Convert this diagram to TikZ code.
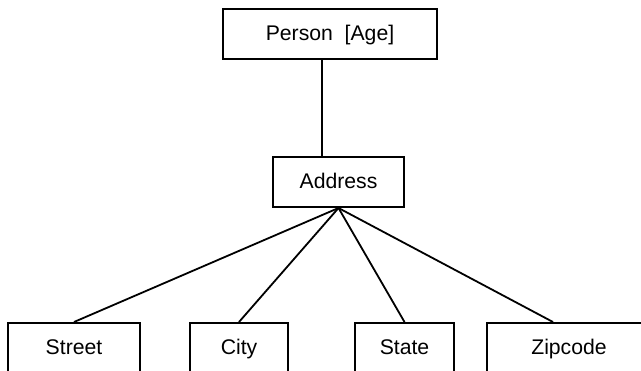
\documentclass[tikz,border=0pt]{standalone}
\usepackage{fontspec}
\setmainfont{Liberation Sans}

\tikzset{
	box/.style={draw, line width=1pt, minimum height=25pt, inner sep=0pt, text height=7.6pt, text depth=1pt, font=\fontsize{10.6}{12}\selectfont},
}

\begin{document}
\begin{tikzpicture}[x=0.5pt, y=-0.5pt, line width=0.9pt]
	\useasboundingbox (0,0) rectangle (641,370);
	\clip (0,0) rectangle (641,370);
	% top and middle
	\node[box, minimum width=107pt] (person) at (330,34) {Person~~[Age]};
	\node[box, minimum width=65.5pt] (address) at (338.5,182) {Address};
	% leaves
	\node[box, minimum width=66pt] (street) at (74,348) {Street};
	\node[box, minimum width=49pt] (city) at (239,348) {City};
	\node[box, minimum width=49.5pt] (state) at (404.5,348) {State};
	\node[box, minimum width=82pt] (zipcode) at (569,348) {Zipcode};
	\draw ([xshift=-4pt]person.south) -- ([xshift=-4pt]person.south |- address.north);
	\foreach \leaf in {street, city, state} {
		\draw (address.south) -- (\leaf.north);
	}
	\draw (address.south) -- ([xshift=-8pt]zipcode.north);
\end{tikzpicture}
\end{document}
